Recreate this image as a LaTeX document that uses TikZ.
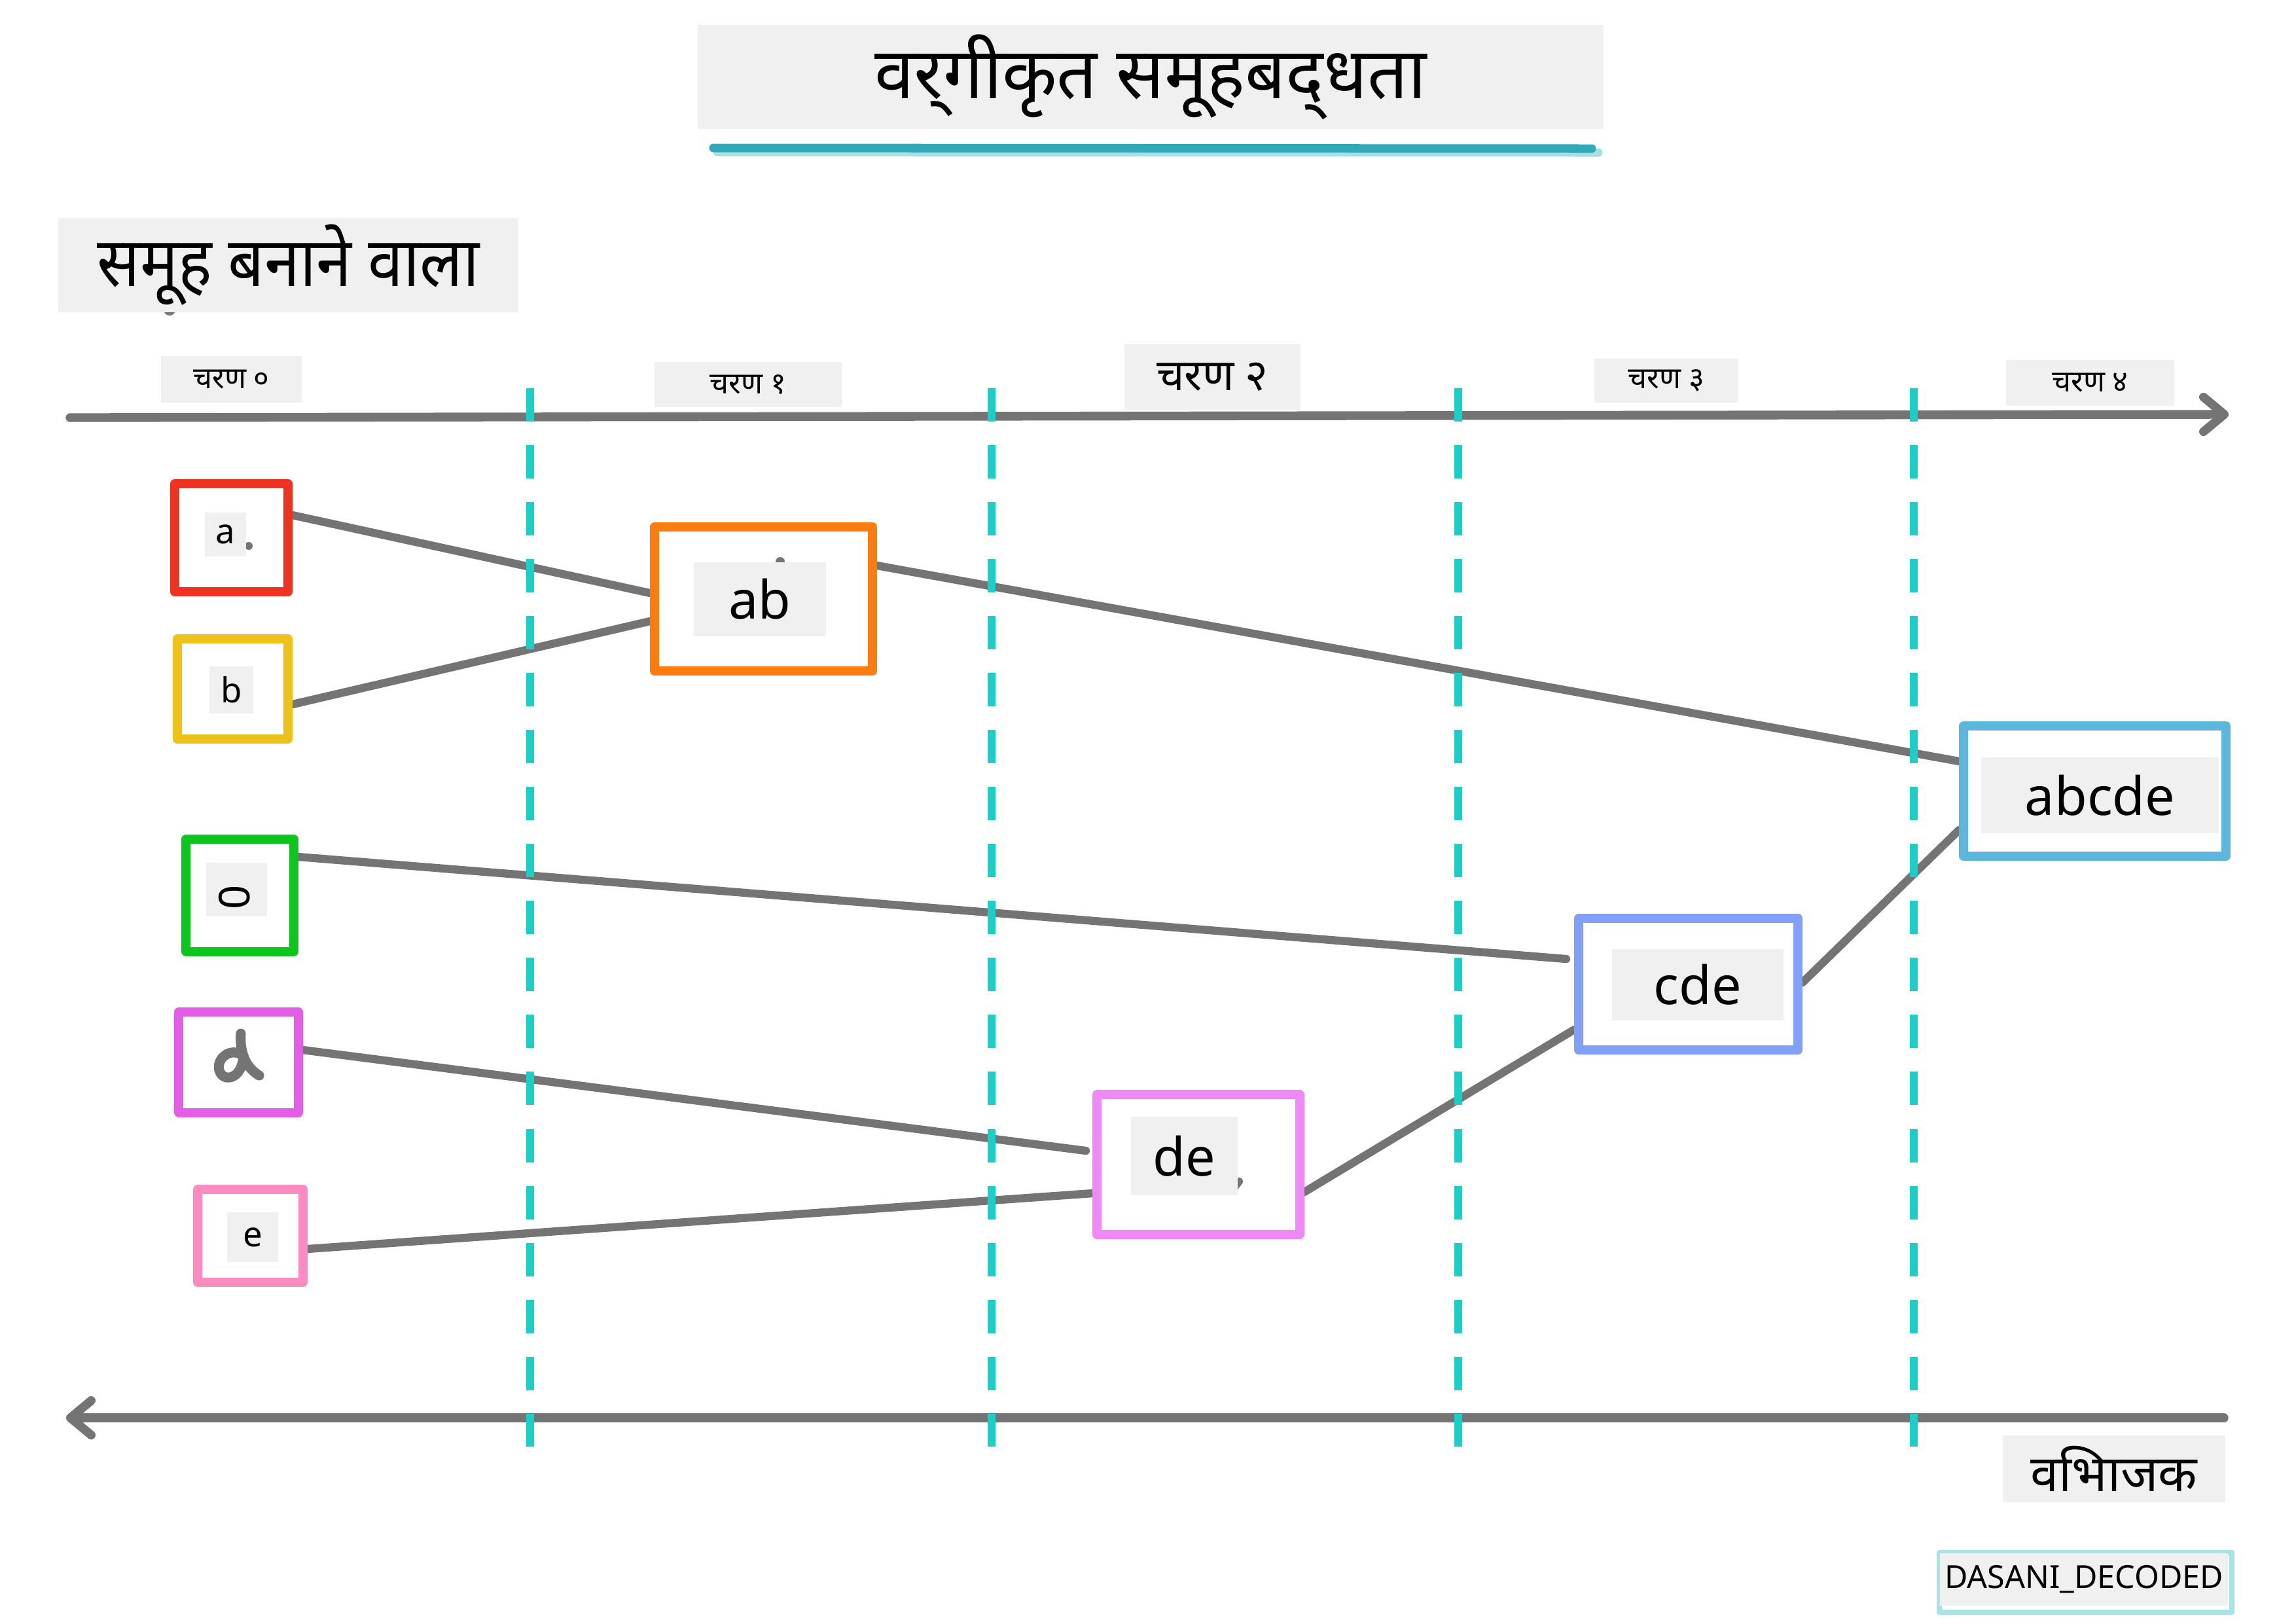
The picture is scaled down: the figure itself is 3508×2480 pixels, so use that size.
\documentclass[tikz,border=0pt]{standalone}
\usepackage{fontspec}
\setmainfont{Noto Sans}
\newfontfamily\deva[Script=Devanagari]{Noto Sans}
\newfontfamily\devanarrow[Script=Devanagari,FakeStretch=0.92]{Noto Sans}
\usetikzlibrary{arrows.meta,calc,backgrounds}
\definecolor{lbg}{HTML}{F0F0F0}
\definecolor{cgray}{HTML}{747474}
\definecolor{dteal}{HTML}{1BCFC8}
\definecolor{ulA}{HTML}{31A9B8}
\definecolor{ulB}{HTML}{A6E0E5}
\definecolor{wmk}{HTML}{A8E4E6}
\definecolor{cA}{HTML}{EE3322}
\definecolor{cB}{HTML}{EEC21A}
\definecolor{cC}{HTML}{0EC41E}
\definecolor{cD}{HTML}{E35EE6}
\definecolor{cE}{HTML}{FC8BC0}
\definecolor{cAB}{HTML}{FB7D10}
\definecolor{cDE}{HTML}{EE8AF5}
\definecolor{cCDE}{HTML}{82A0F7}
\definecolor{cALL}{HTML}{5DB6DB}
\tikzset{
  box/.style={draw=#1, line width=3.9pt, line join=round, inner sep=0pt},
  lbl/.style={fill=lbg, inner sep=0pt, text=black, align=center},
  conn/.style={draw=cgray, line width=3.5pt, line cap=round},
  axis/.style={draw=cgray, line width=3.8pt, line cap=round,
    -{Straight Barb[length=9pt,width=15pt,round]}},
  vdash/.style={draw=dteal, line width=3.6pt, dash pattern=on 14.5pt off 10.25pt},
  small/.style={font=\fontsize{15}{18}\selectfont},
  big/.style={font=\fontsize{23}{28}\selectfont},
  stage/.style={lbl, font=\deva\fontsize{13}{16}\selectfont},
}
\begin{document}
\begin{tikzpicture}[x=0.01cm,y=-0.01cm]
\useasboundingbox (0,0) rectangle (3508,2480);
\begin{pgfonlayer}{background}
  \fill[white] (0,0) rectangle (3508,2480);
\end{pgfonlayer}

% title
\node[lbl, minimum width=13.84cm, minimum height=1.59cm,
  font=\deva\bfseries\fontsize{31}{37}\selectfont] (title) at (1758,117.5)
  {वर्^^^^200cगीकृत समूहबद्^^^^200cधता};
\draw[ulB, line width=3.7pt, line cap=round] (1096,232) -- (2442,233);
\draw[ulA, line width=3.7pt, line cap=round] (1090,226) -- (2432,227);

% heading
\fill[cgray] (259,473) circle (9);
\node[lbl, minimum width=7.03cm, minimum height=1.44cm,
  font=\devanarrow\bfseries\fontsize{30}{36}\selectfont] (grp) at (440.5,405) {समूह बनाने वाला};

% axes
\coordinate (tl) at (107,638);
\coordinate (tr) at (3405,633);
\coordinate (br) at (3398,2166);
\coordinate (bl) at (101,2166);
\draw[axis] (tl) -- (tr);
\draw[axis] (br) -- (bl);

% dashed separators
\foreach \i/\x in {1/810,2/1515,3/2228,4/2924}{
  \coordinate (s\i t) at (\x,593);
  \coordinate (s\i b) at (\x,2210);
  \draw[vdash] (s\i t) -- (s\i b);
}

% stage labels
\node[stage, minimum width=2.15cm, minimum height=0.71cm] (st0) at (353.5,579.5) {चरण ०};
\node[stage, minimum width=2.86cm, minimum height=0.69cm] (st1) at (1143,587.5) {चरण १};
\node[stage, minimum width=2.69cm, minimum height=1.00cm, font=\deva\fontsize{19}{23}\selectfont] (st2) at (1852.5,576) {चरण २};
\node[stage, minimum width=2.20cm, minimum height=0.67cm] (st3) at (2546,581.5) {चरण ३};
\node[stage, minimum width=2.57cm, minimum height=0.70cm] (st4) at (3193.5,585) {चरण ४};

% boxes
\node[box=cA, minimum width=1.73cm, minimum height=1.65cm] (a) at (353.5,821.5) {};
\node[box=cB, minimum width=1.69cm, minimum height=1.53cm] (b) at (355.5,1052.5) {};
\node[box=cC, minimum width=1.65cm, minimum height=1.72cm] (c) at (366.5,1368) {};
\node[box=cD, minimum width=1.83cm, minimum height=1.54cm] (d) at (364.5,1623) {};
\node[box=cE, minimum width=1.61cm, minimum height=1.42cm] (e) at (382.5,1888) {};
\node[box=cAB, minimum width=3.33cm, minimum height=2.20cm] (ab) at (1166.5,915) {};
\node[box=cDE, minimum width=3.10cm, minimum height=2.14cm] (de) at (1831,1779) {};
\node[box=cCDE, minimum width=3.35cm, minimum height=2.01cm] (cde) at (2579.5,1503.5) {};
\node[box=cALL, minimum width=4.01cm, minimum height=1.99cm] (abcde) at (3200.5,1208.5) {};

% connectors
\begin{pgfonlayer}{background}
  \draw[conn] ($(a.east)+(0,-34.5)$) -- ($(ab.west)+(0,-9)$);
  \draw[conn] ($(b.east)+(0,23.5)$) -- ($(ab.west)+(0,34)$);
  \draw[conn] ($(ab.east)+(0,-51)$) -- ($(abcde.west)+(0,-45.5)$);
  \draw[conn] ($(c.east)+(0,-59)$) -- ($(cde.west)+(-12,-38.5)$);
  \draw[conn] ($(d.east)+(0,-19)$) -- ($(de.west)+(-10,-21)$);
  \draw[conn] ($(e.east)+(0,20)$) -- ($(de.west)+(0,44)$);
  \draw[conn] ($(de.east)+(0,42)$) -- ($(cde.west)+(0,69.5)$);
  \draw[conn] ($(cde.east)+(0,-2.5)$) -- ($(abcde.west)+(0,59.5)$);
\end{pgfonlayer}

% small stroke remnants under labels
\fill[cgray] (380,834) circle (6);
\fill[cgray] (1192,858) circle (7);
\draw[cgray, line width=3.4pt, line cap=round] (1885,1815) -- (1893,1805);

% labels
\node[lbl, small, minimum width=0.63cm, minimum height=0.67cm] (la) at (344.5,816.5) {a};
\node[lbl, small, minimum width=0.67cm, minimum height=0.72cm] (lb) at (353.5,1054) {b};
\node[lbl, minimum width=0.93cm, minimum height=0.82cm] (lcbg) at (361.5,1359) {};
\node[inner sep=0pt, rotate=90, font=\fontsize{18.5}{22}\selectfont] (lc) at (358.5,1371) {0};
\draw[cgray, line width=4.3pt, line cap=round, line join=round]
  (368,1579) .. controls (366,1605) and (374,1630) .. (396,1643);
\draw[cgray, line width=4.3pt, line cap=round, line join=round]
  (372,1613) .. controls (352,1598) and (330,1618) .. (335,1635)
  .. controls (340,1654) and (370,1650) .. (372,1613);
\node[lbl, small, minimum width=0.78cm, minimum height=0.76cm] (le) at (386,1890) {e};
\node[lbl, big, minimum width=2.02cm, minimum height=1.13cm] (lab) at (1161,915.5) {ab};
\node[lbl, big, minimum width=1.63cm, minimum height=1.20cm] (lde) at (1809.5,1766) {de};
\node[lbl, big, minimum width=2.62cm, minimum height=1.09cm] (lcde) at (2594,1504.5) {cde};
\node[lbl, big, minimum width=3.63cm, minimum height=1.16cm] (labcde) at (3208.5,1215) {abcde};

% divider label
\node[lbl, minimum width=3.40cm, minimum height=1.02cm,
  font=\deva\fontsize{22}{26}\selectfont] (div) at (3230,2244) {वभिाजक};

% watermark
\draw[wmk, line width=2.2pt, line join=round] (2963,2372) rectangle (3410,2463);
\node[lbl, minimum width=4.40cm, minimum height=0.80cm,
  font=\fontsize{13.8}{16}\selectfont] (wm) at (3184,2413) {DASANI\_DECODED};
\end{tikzpicture}
\end{document}
